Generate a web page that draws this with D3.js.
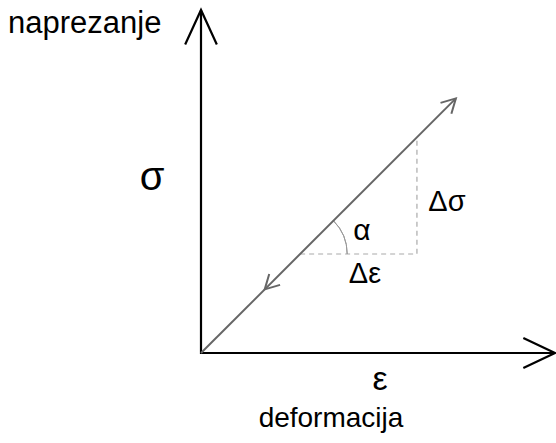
<!DOCTYPE html>
<html lang="en">
<head>
    <meta charset="UTF-8">
    <title>Naprezanje - deformacija</title>
    <style>
        body { margin: 0; background: #fff; }
        text { font-family: "Liberation Sans", Arial, sans-serif; fill: #000; }
    </style>
    <script src="https://d3js.org/d3.v7.min.js"></script>
</head>
<body>
    <svg width="556" height="443"></svg>

    <script>
        // axis extents (strain, stress) in chart units
        const axisEnds = [10, 9.7];
        // loading / unloading line: start and end points
        const loadLine = [[0, 0], [7.2, 7.2]];
        // unloading arrow tip on the same line
        const unloadTip = [1.8, 1.8];
        // slope triangle corners
        const triangle = [[2.8, 2.8], [6.1, 2.8], [6.1, 6.1]];
        const arcRadius = 1.33;
        const axisLabels = ["deformacija", "naprezanje"];
        const symbols = ["ε", "σ", "Δε", "Δσ", "α"];

        const svg = d3.select("svg");

        const x = d3.scaleLinear().domain([0, 10]).range([201, 555]);
        const y = d3.scaleLinear().domain([0, 9.7]).range([353, 10]);

        // draws an open V arrowhead at tip, pointing along angle (radians, screen space)
        function arrowHead(tx, ty, ang, len, spread, color, width) {
            const p = d3.path();
            p.moveTo(tx - len * Math.cos(ang - spread), ty - len * Math.sin(ang - spread));
            p.lineTo(tx, ty);
            p.lineTo(tx - len * Math.cos(ang + spread), ty - len * Math.sin(ang + spread));
            svg.append("path")
                .attr("d", p.toString())
                .attr("fill", "none")
                .attr("stroke", color)
                .attr("stroke-width", width);
        }

        // slope triangle (dashed)
        svg.append("path")
            .attr("d", d3.line().x(d => x(d[0])).y(d => y(d[1]))(triangle))
            .attr("fill", "none")
            .attr("stroke", "#aaa")
            .attr("stroke-width", 1.2)
            .attr("stroke-dasharray", "5,4");

        // angle arc
        const c = triangle[0];
        const r = x(arcRadius) - x(0);
        svg.append("path")
            .attr("d", d3.arc()({innerRadius: r, outerRadius: r, startAngle: Math.PI / 4, endAngle: Math.PI / 2}))
            .attr("transform", `translate(${x(c[0])},${y(c[1])})`)
            .attr("fill", "none")
            .attr("stroke", "#999")
            .attr("stroke-width", 1);

        // axes
        svg.append("path")
            .attr("d", d3.line()([[x(0), y(axisEnds[1])], [x(0), y(0)], [x(axisEnds[0]), y(0)]]))
            .attr("fill", "none")
            .attr("stroke", "#000")
            .attr("stroke-width", 2.2);
        arrowHead(x(0), y(axisEnds[1]), -Math.PI / 2, 38, 0.43, "#000", 2.2);
        arrowHead(x(axisEnds[0]), y(0), 0, 35, 0.44, "#000", 2.2);

        // loading line
        svg.append("path")
            .attr("d", d3.line().x(d => x(d[0])).y(d => y(d[1]))(loadLine))
            .attr("fill", "none")
            .attr("stroke", "#666")
            .attr("stroke-width", 2);
        const up = Math.atan2(y(loadLine[1][1]) - y(0), x(loadLine[1][0]) - x(0));
        arrowHead(x(loadLine[1][0]), y(loadLine[1][1]), up, 16, 0.5, "#666", 2);
        arrowHead(x(unloadTip[0]), y(unloadTip[1]), up + Math.PI, 16, 0.5, "#666", 2);

        // texts
        svg.append("text").attr("x", 8).attr("y", 33).attr("font-size", 31).text(axisLabels[1]);
        svg.append("text").attr("x", 331).attr("y", 427).attr("font-size", 28)
            .attr("text-anchor", "middle").text(axisLabels[0]);
        svg.append("text").attr("x", 380).attr("y", 390).attr("font-size", 34)
            .attr("text-anchor", "middle").text(symbols[0]);
        svg.append("text").attr("x", 152).attr("y", 190).attr("font-size", 40)
            .attr("text-anchor", "middle").text(symbols[1]);
        svg.append("text").attr("x", 365).attr("y", 283).attr("font-size", 29)
            .attr("text-anchor", "middle").text(symbols[2]);
        svg.append("text").attr("x", 447).attr("y", 211).attr("font-size", 29)
            .attr("text-anchor", "middle").text(symbols[3]);
        svg.append("text").attr("x", 362).attr("y", 240).attr("font-size", 30)
            .attr("text-anchor", "middle").text(symbols[4]);
    </script>
</body>
</html>
